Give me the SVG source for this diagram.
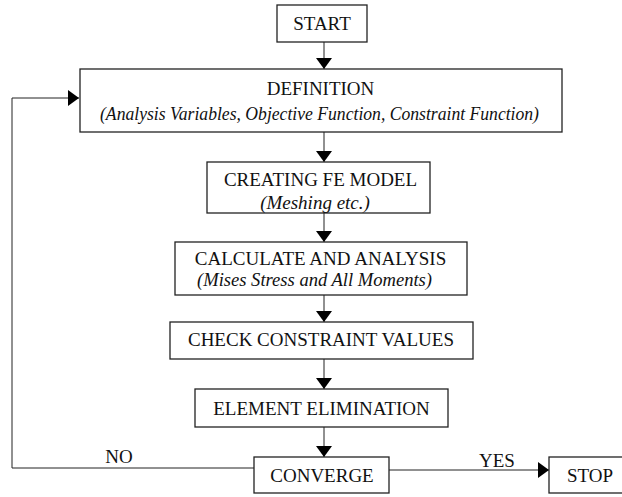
<svg xmlns="http://www.w3.org/2000/svg" width="622" height="497" viewBox="0 0 622 497">
<style>
.box{fill:#fff;stroke:#222;stroke-width:1.3}
.t{font-family:"Liberation Serif","Times New Roman",serif;font-size:19px;fill:#111;text-anchor:middle}
.i{font-style:italic}
.c{fill:none;stroke:#222;stroke-width:1}
</style>
<defs>
<marker id="ah" markerUnits="userSpaceOnUse" markerWidth="11" markerHeight="16" refX="11" refY="8" orient="auto">
<path d="M0,0 L11,8 L0,16 z" fill="#000"/>
</marker>
</defs>
<rect width="622" height="497" fill="#fff"/>
<g id="connectors">
<path class="c" d="M324,42 V69" marker-end="url(#ah)"/>
<path class="c" d="M324,132 V162" marker-end="url(#ah)"/>
<path class="c" d="M324,213 V242" marker-end="url(#ah)"/>
<path class="c" d="M324,295 V322" marker-end="url(#ah)"/>
<path class="c" d="M324,359 V389" marker-end="url(#ah)"/>
<path class="c" d="M324,427 V457" marker-end="url(#ah)"/>
<path class="c" d="M389,470 H549" marker-end="url(#ah)"/>
<path class="c" d="M254,468 H12 V98 H79" marker-end="url(#ah)"/>
<text class="t" x="119" y="463">NO</text>
<text class="t" x="497" y="467">YES</text>
</g>
<g id="start">
<rect class="box" x="277" y="5" width="90" height="37"/>
<text class="t" x="322" y="30">START</text>
</g>
<g id="definition">
<rect class="box" x="80" y="69" width="482" height="63"/>
<text class="t" x="320.5" y="95">DEFINITION</text>
<text class="t i" x="319.5" y="120" textLength="439" lengthAdjust="spacingAndGlyphs">(Analysis Variables, Objective Function, Constraint Function)</text>
</g>
<g id="fe-model">
<rect class="box" x="207" y="162" width="223" height="51"/>
<text class="t" x="320.5" y="186">CREATING FE MODEL</text>
<text class="t i" x="315" y="209">(Meshing etc.)</text>
</g>
<g id="calculate">
<rect class="box" x="175" y="242" width="292" height="53"/>
<text class="t" x="320.5" y="265">CALCULATE AND ANALYSIS</text>
<text class="t i" x="314.5" y="286" textLength="235" lengthAdjust="spacingAndGlyphs">(Mises Stress and All Moments)</text>
</g>
<g id="check">
<rect class="box" x="170" y="322" width="303" height="37"/>
<text class="t" x="321" y="346">CHECK CONSTRAINT VALUES</text>
</g>
<g id="elimination">
<rect class="box" x="195" y="389" width="253" height="38"/>
<text class="t" x="321.5" y="415">ELEMENT ELIMINATION</text>
</g>
<g id="converge">
<rect class="box" x="254" y="457" width="135" height="36"/>
<text class="t" x="322" y="482">CONVERGE</text>
</g>
<g id="stop">
<rect class="box" x="549" y="457" width="90" height="36"/>
<text class="t" x="590" y="482">STOP</text>
</g>
</svg>
